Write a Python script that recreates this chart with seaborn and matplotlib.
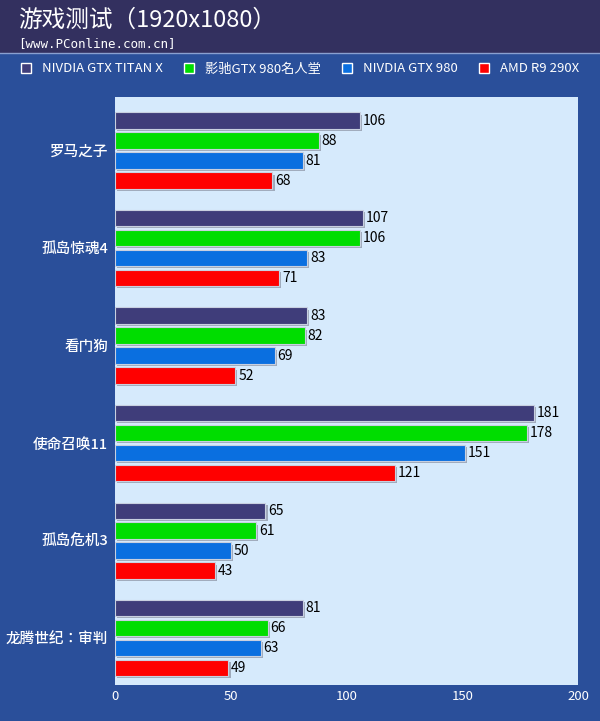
import matplotlib
matplotlib.use("Agg")
import matplotlib.pyplot as plt
import matplotlib.patheffects as pe
from matplotlib import font_manager as fm
import seaborn as sns
import pandas as pd

games = ["罗马之子", "孤岛惊魂4", "看门狗", "使命召唤11", "孤岛危机3", "龙腾世纪：审判"]
series = ["NIVDIA GTX TITAN X", "影驰GTX 980名人堂", "NIVDIA GTX 980", "AMD R9 290X"]
titan = [106, 107, 83, 181, 65, 81]
galax = [88, 106, 82, 178, 61, 66]
gtx980 = [81, 83, 69, 151, 50, 63]
r9 = [68, 71, 52, 121, 43, 49]
colors = ["#3f3d7a", "#00dd00", "#0a6fe0", "#ff0000"]
xticks = [0, 50, 100, 150, 200]

for f in fm.findSystemFonts():
    if "cjk" in f.lower() and "serif" not in f.lower():
        try:
            fm.fontManager.addfont(f)
        except Exception:
            pass
names = sorted({fe.name for fe in fm.fontManager.ttflist if "Sans CJK" in fe.name})
fam = "Noto Sans CJK SC" if "Noto Sans CJK SC" in names else (names[0] if names else "DejaVu Sans")
plt.rcParams["font.family"] = "sans-serif"
plt.rcParams["font.sans-serif"] = [fam, "DejaVu Sans"]

rows = []
for s, vals in zip(series, [titan, galax, gtx980, r9]):
    for g, v in zip(games, vals):
        rows.append({"game": g, "series": s, "value": v})
df = pd.DataFrame(rows)

fig = plt.figure(figsize=(6, 7.21), dpi=100)
fig.patch.set_facecolor("#2a4f9a")
fig.add_artist(plt.Rectangle((0, 1 - 52/721), 1, 52/721, transform=fig.transFigure,
                             color="#33305f", zorder=0))
fig.add_artist(plt.Line2D([0, 1], [1 - 53/721]*2, transform=fig.transFigure, color="#8aa0d0", lw=1))
fig.text(0.03, 0.972, "游戏测试（1920x1080）", color="white", fontsize=17, va="center", family=fam)
fig.text(0.03, 0.94, "[www.PConline.com.cn]", color="white", fontsize=9, va="center",
         family="DejaVu Sans Mono")

ax = fig.add_axes([115/600, 1 - 685/721, 463/600, 588/721])
ax.set_facecolor("#d6eafc")
sns.barplot(data=df, y="game", x="value", hue="series", palette=colors, orient="h",
            width=0.82, gap=0.18, ax=ax, legend=False, edgecolor="#c8d0e0", linewidth=0.8,
            saturation=1)
for p in ax.patches:
    p.set_path_effects([pe.SimplePatchShadow(offset=(1.5, -1.5), shadow_rgbFace="#8890a0", alpha=0.7), pe.Normal()])
for c in ax.containers:
    ax.bar_label(c, fontsize=10, padding=2, color="black", family=fam)
ax.set_xlim(0, 200)
ax.set_ylim(5.48, -0.55)
ax.set_xticks(xticks)
ax.tick_params(axis="x", colors="white", labelsize=9.5, length=0)
ax.tick_params(axis="y", colors="white", labelsize=10.5, length=0, pad=5)
for t in ax.get_yticklabels() + ax.get_xticklabels():
    t.set_family(fam)
for t in ax.get_yticklabels():
    t.set_fontweight("medium")
ax.set_xlabel("")
ax.set_ylabel("")
for s in ax.spines.values():
    s.set_visible(False)

handles = [plt.Rectangle((0, 0), 1, 1, fc=c, ec="white", lw=1) for c in colors]
fig.legend(handles, series, loc="center", bbox_to_anchor=(0.5, 1 - 69/721), ncol=4,
           frameon=False, labelcolor="white", handlelength=0.8, handleheight=0.8,
           columnspacing=1.6, handletextpad=0.8, prop={"family": fam, "size": 9.5})
fig.savefig("out.png", dpi=100, facecolor=fig.get_facecolor())
